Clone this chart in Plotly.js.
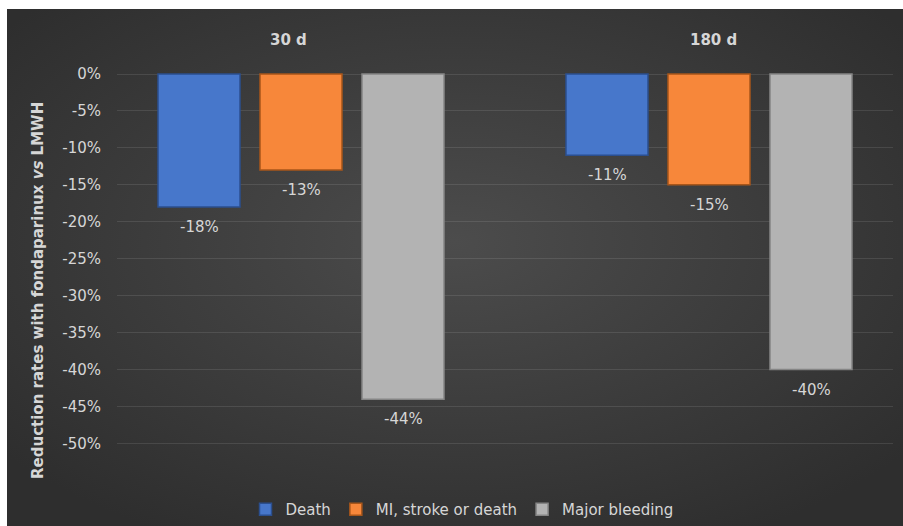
<!DOCTYPE html>
<html>
<head>
<meta charset="utf-8">
<script src="https://cdn.plot.ly/plotly-3.0.1.min.js"></script>
<style>
html,body{margin:0;padding:0;background:#fff;}
#chart{width:903px;height:526px;}
</style>
</head>
<body>
<div id="chart"></div>
<script>
// ---- data ----
const categories = ["30 d", "180 d"];
const seriesNames = ["Death", "MI, stroke or death", "Major bleeding"];
const death = [-0.18, -0.11];
const miStrokeDeath = [-0.13, -0.15];
const majorBleeding = [-0.44, -0.40];
const yTickVals = [0, -0.05, -0.10, -0.15, -0.20, -0.25, -0.30, -0.35, -0.40, -0.45, -0.50];
const yTickText = ["0%", "-5%", "-10%", "-15%", "-20%", "-25%", "-30%", "-35%", "-40%", "-45%", "-50%"];
const yTitle = "Reduction rates with fondaparinux <i>vs</i> LMWH";

// ---- styles ----
const fills = ["#4777CB", "#F7873A", "#B3B3B3"];
const edges = ["#2B4F8F", "#A8561A", "#858585"];
const txt = "#D6D6D6";
const font = "DejaVu Sans, Verdana, sans-serif";

const values = [death, miStrokeDeath, majorBleeding];
const traces = values.map((v, i) => ({
  type: "bar",
  name: seriesNames[i],
  x: categories,
  y: v,
  marker: {color: fills[i], line: {color: edges[i], width: 1.5}},
  hoverinfo: "skip"
}));

const bg = 'data:image/svg+xml;utf8,' + encodeURIComponent(
  '<svg xmlns="http://www.w3.org/2000/svg" width="896" height="517" viewBox="0 0 896 517" preserveAspectRatio="none">' +
  '<defs><radialGradient id="g" cx="50%" cy="45%" r="65%">' +
  '<stop offset="0" stop-color="#4c4c4c"/><stop offset="1" stop-color="#2e2e2e"/></radialGradient></defs>' +
  '<rect width="896" height="517" fill="url(#g)"/></svg>');

// plot area: x 117..893, y 60..460
const L = 117, R = 893, T = 60, B = 460;
const pw = R - L, ph = B - T;

// data labels below bar ends
const labelAnnots = [];
values.forEach((v, i) => {
  v.forEach((d, j) => {
    labelAnnots.push({
      text: Math.round(d * 100) + "%",
      x: categories[j], xref: "x", xshift: (i - 1) * 102,
      y: d, yref: "y", yshift: -20, yanchor: "middle", xanchor: "center",
      showarrow: false, font: {color: txt, size: 15, family: font}
    });
  });
});

const layout = {
  width: 903, height: 526,
  margin: {l: L, r: 903 - R, t: T, b: 526 - B, pad: 0},
  paper_bgcolor: "#ffffff",
  plot_bgcolor: "rgba(0,0,0,0)",
  barmode: "group",
  bargap: 0.25,
  bargroupgap: 0.196,
  showlegend: true,
  legend: {
    orientation: "h", x: 462 / 903, xanchor: "center", xref: "container",
    y: 510, yref: "container", yanchor: "middle",
    font: {color: txt, size: 15, family: font},
    bgcolor: "rgba(0,0,0,0)", itemwidth: 30, traceorder: "normal"
  },
  xaxis: {
    range: [-0.451, 1.451],
    showticklabels: false, showgrid: false, zeroline: false, showline: false, ticks: ""
  },
  yaxis: {
    range: [-0.5 - 16.5 / 739, 14 / 739],
    tickvals: yTickVals,
    ticktext: yTickText,
    tickfont: {color: txt, size: 15, family: font},
    gridcolor: "rgba(255,255,255,0.10)", gridwidth: 1,
    zeroline: false, showline: false, ticks: "",
    ticklabelstandoff: 15
  },
  images: [{
    source: bg, xref: "paper", yref: "paper",
    x: (7 - L) / pw, y: (B - 9) / ph,
    sizex: 896 / pw, sizey: 517 / ph,
    xanchor: "left", yanchor: "top", sizing: "stretch", layer: "below"
  }],
  annotations: [
    {text: "<b>" + categories[0] + "</b>", x: categories[0], xref: "x", xshift: -13, y: (B - 40) / ph, yref: "paper", yanchor: "middle",
     showarrow: false, font: {color: txt, size: 15, family: font}},
    {text: "<b>" + categories[1] + "</b>", x: categories[1], xref: "x", xshift: 4, y: (B - 40) / ph, yref: "paper", yanchor: "middle",
     showarrow: false, font: {color: txt, size: 15, family: font}},
    {text: "<b>" + yTitle + "</b>", textangle: -90, x: (38 - L) / pw, y: (B - 291) / ph, xref: "paper", yref: "paper",
     xanchor: "center", yanchor: "middle",
     showarrow: false, font: {color: txt, size: 15, family: font}}
  ].concat(labelAnnots)
};

Plotly.newPlot("chart", traces, layout, {displayModeBar: false, staticPlot: true});
</script>
</body>
</html>
